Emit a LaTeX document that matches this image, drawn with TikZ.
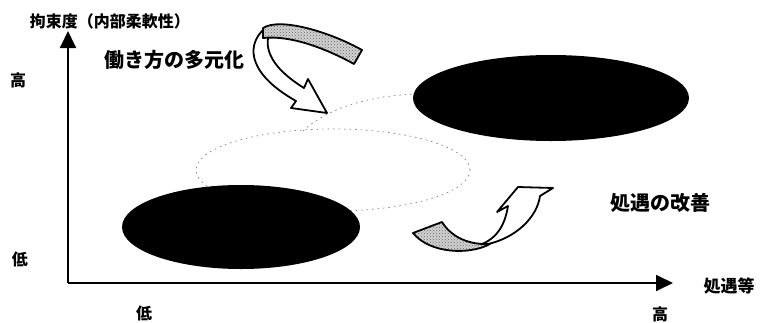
\documentclass[tikz,border=0pt]{standalone}
\usepackage{fontspec}
\newfontfamily\jp{Noto Sans CJK JP}
\usetikzlibrary{arrows.meta,patterns,shapes.geometric}
\begin{document}
\begin{tikzpicture}[x=1pt,y=-1pt,
  axis/.style={line width=1.8pt,-{Triangle[length=17pt,width=16pt]}},
  lbl/.style={font=\jp\bfseries\fontsize{16}{16}\selectfont, inner sep=0pt},
  big/.style={font=\jp\bfseries\fontsize{20}{20}\selectfont, inner sep=0pt},
  blob/.style={ellipse, fill=black, draw=none, inner sep=0pt},
  ghost/.style={draw=gray, line width=0.7pt, dash pattern=on 1.5pt off 4pt},
  ribbon/.style={draw=black, line width=1.8pt, line join=round, fill=white},
  shade/.style={draw=black, line width=1.8pt, line join=round, preaction={fill=gray!35}, pattern=crosshatch dots, pattern color=gray!80!black}
]
\useasboundingbox (0,0) rectangle (764,322);
% dotted (former) positions
\node[ellipse, ghost, minimum width=274pt, minimum height=82pt, inner sep=0pt] (mid) at (333,170) {};
\coordinate (arcA) at (303,131);
\coordinate (arcB) at (416,94);
\draw[ghost] (arcA) .. controls (325,110) and (365,96) .. (arcB);
% black ellipses
\node[blob, minimum width=276pt, minimum height=86pt] (high) at (551,98) {};
\node[blob, minimum width=238pt, minimum height=84pt] (low) at (241,227) {};
% axes
\coordinate (O) at (68,283);
\coordinate (Ytop) at (68,31);
\coordinate (Xend) at (673,283);
\draw[axis] (O) -- (Ytop);
\draw[axis] (O) -- (Xend);
% arrow 1 (diversification of working styles)
\draw[ribbon] (262,31) .. controls (246,48) and (250,75) .. (296,101) -- (291,108) -- (327,113) -- (308,79) -- (304,88) .. controls (283,75) and (265,58) .. (268,38) -- cycle;
\draw[shade] (263,28) .. controls (280,17) and (330,32) .. (362,50) -- (354,64) .. controls (325,48) and (290,35) .. (263,38) -- cycle;
% arrow 2 (improvement of treatment)
\draw[ribbon] (488,244) .. controls (515,238) and (537,218) .. (540,196) -- (553,188) -- (518,187) -- (497,212) -- (508,206) .. controls (505,225) and (497,238) .. (482,244) -- cycle;
\draw[shade] (413,233) -- (442,222) .. controls (452,238) and (470,245) .. (490,244) .. controls (470,255) and (430,254) .. (413,233) -- cycle;
% labels
\node[lbl] (ylab) at (110,21) {拘束度（内部柔軟性）};
\node[lbl] (yhigh) at (18,80) {高};
\node[lbl] (ylow) at (20,259) {低};
\node[lbl] (xlow) at (144,313) {低};
\node[lbl] (xhigh) at (660,314) {高};
\node[lbl, font=\jp\bfseries\fontsize{17}{17}\selectfont] (xlab) at (729,286) {処遇等};
\node[big] (t1) at (174,60) {働き方の多元化};
\node[big] (t2) at (660,203) {処遇の改善};
\end{tikzpicture}
\end{document}
